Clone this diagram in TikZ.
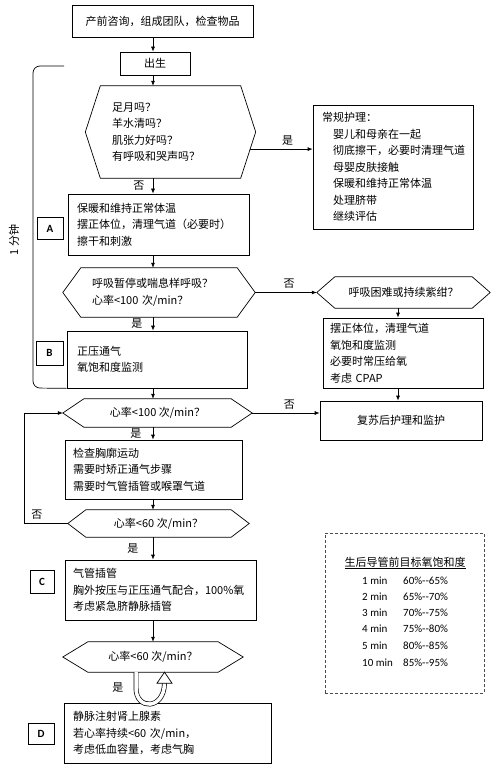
\documentclass[tikz,border=0pt]{standalone}
\usepackage{fontspec}
\setmainfont{Noto Sans CJK SC}
\newfontfamily\latfont{Carlito}
\usetikzlibrary{arrows.meta,calc}

\begin{document}
\begin{tikzpicture}[x=1pt,y=-1pt,
    every node/.style={font=\fontsize{11}{16.5}\selectfont},
    box/.style={draw,line width=0.7pt,inner sep=2pt},
    txtbox/.style={box,align=left},
    hexnode/.style={inner sep=2pt},
    tag/.style={box,font=\latfont\bfseries\fontsize{11}{13}\selectfont},
    arr/.style={line width=0.7pt,-{Latex[length=5pt,width=4pt]}},
    line/.style={line width=0.7pt},
    uturn/.style={double,double distance=3.5pt,line width=0.7pt}]
    \useasboundingbox (0,0) rectangle (496,767);
    \coordinate (axis) at (153,0);
    \coordinate (raxis) at (398,0);

    % main column
    \node[box,minimum width=181,minimum height=32] (pre) at (162.5,21) {产前咨询，组成团队，检查物品};
    \node[box,minimum width=70,minimum height=23] (birth) at (155,63.5) {出生};
    \node[hexnode,minimum width=170,minimum height=92,text width=117,align=left] (q1) at (170.5,132)
      {足月吗？\\羊水清吗？\\肌张力好吗？\\有呼吸和哭声吗？};
    \node[txtbox,minimum width=181,minimum height=61,text width=163] (boxa) at (158.5,224.5)
      {保暖和维持正常体温\\摆正体位，清理气道（必要时）\\擦干和刺激};
    \node[hexnode,minimum width=192,minimum height=49,text width=134,align=left] (q2) at (159,292.5)
      {呼吸暂停或喘息样呼吸？\\心率<100 次/min？};
    \node[txtbox,minimum width=180,minimum height=57,text width=160] (boxb) at (157,359.5)
      {正压通气\\氧饱和度监测};
    \node[hexnode,minimum width=189,minimum height=28] (q4) at (157.5,413) {心率<100 次/min？};
    \node[txtbox,minimum width=177,minimum height=59,text width=161] (chk) at (153.5,469.5)
      {检查胸廓运动\\需要时矫正通气步骤\\需要时气管插管或喉罩气道};
    \node[hexnode,minimum width=181,minimum height=27] (q5) at (158.5,523.5) {心率<60 次/min？};
    \node[txtbox,minimum width=191,minimum height=60,text width=175] (boxc) at (160.5,590)
      {气管插管\\胸外按压与正压通气配合，100\%氧\\考虑紧急脐静脉插管};
    \node[hexnode,minimum width=180,minimum height=30] (q6) at (153,657) {心率<60 次/min？};
    \node[txtbox,minimum width=207,minimum height=60,text width=189] (boxd) at (167.5,733)
      {静脉注射肾上腺素\\若心率持续<60 次/min，\\考虑低血容量，考虑气胸};

    % right column
    \node[txtbox,minimum width=160,minimum height=124,text width=142] (care) at (393,167)
      {常规护理：\\\hspace*{11pt}婴儿和母亲在一起\\\hspace*{11pt}彻底擦干，必要时清理气道\\\hspace*{11pt}母婴皮肤接触\\\hspace*{11pt}保暖和维持正常体温\\\hspace*{11pt}处理脐带\\\hspace*{11pt}继续评估};
    \node[hexnode,minimum width=173,minimum height=31] (q3) at (403.5,292.5) {呼吸困难或持续紫绀？};
    \node[txtbox,minimum width=160,minimum height=70,text width=146] (cpap) at (403,353)
      {摆正体位，清理气道\\氧饱和度监测\\必要时常压给氧\\考虑 CPAP};
    \node[box,minimum width=162,minimum height=39] (post) at (401,420.5) {复苏后护理和监护};

    % step tags
    \node[tag,minimum width=26,minimum height=22] (taga) at (50,228.5) {A};
    \node[tag,minimum width=27,minimum height=24] (tagb) at (49.5,353) {B};
    \node[tag,minimum width=24,minimum height=23] (tagc) at (42,581.5) {C};
    \node[tag,minimum width=26,minimum height=21] (tagd) at (41,733.5) {D};

    % hexagons
    \foreach \n/\d in {q1/15pt,q2/18pt,q3/18pt,q4/21pt,q5/18pt,q6/25pt}{
      \draw[line] ([xshift=\d]\n.north west) -- ([xshift=-\d]\n.north east) -- (\n.east)
        -- ([xshift=-\d]\n.south east) -- ([xshift=\d]\n.south west) -- (\n.west) -- cycle;
    }

    % one minute bracket
    \draw[line,rounded corners=7pt] (64,66) -- (33,66) -- (33,388) -- (boxb.south west);
    \node[rotate=90] (onemin) at (14,240) {1 分钟};

    % connectors
    \coordinate (q1r) at ($(q1.east)!0.37!([xshift=-15pt]q1.south east)$);
    \draw[arr] (pre.south -| axis) -- (birth.north -| axis);
    \draw[arr] (birth.south -| axis) -- (q1.north -| axis);
    \draw[arr] (q1.south -| axis) -- node[left=5pt]{否} (boxa.north -| axis);
    \draw[arr] (q1r) -- node[above,pos=0.6]{是} (q1r -| care.west);
    \draw[arr] (boxa.south -| axis) -- (q2.north -| axis);
    \draw[arr] (q2.east) -- node[above,pos=0.55]{否} (q3.west);
    \draw[arr] (q2.south -| axis) -- node[left=7pt]{是} (boxb.north -| axis);
    \draw[arr] (q3.south -| raxis) -- (cpap.north -| raxis);
    \draw[arr] (cpap.south -| raxis) -- (post.north -| raxis);
    \draw[arr] (boxb.south -| axis) -- (q4.north -| axis);
    \draw[arr] (q4.east) -- node[above,pos=0.55]{否} (q4.east -| post.west);
    \draw[arr] (q4.south -| axis) -- node[left=8pt]{是} (chk.north -| axis);
    \draw[arr] (chk.south -| axis) -- (q5.north -| axis);
    \draw[arr] (q5.west) -- node[above,pos=0.72]{否} ++(-43,0) |- (q4.west);
    \draw[arr] (q5.south -| axis) -- node[left=11pt]{是} (boxc.north -| axis);
    \draw[arr] (boxc.south -| axis) -- (q6.north -| axis);

    % u-turn back to q6
    \draw[uturn] ($(q6.south)+(-17,0)$) -- node[left=9pt,pos=0.95]{是} ($(q6.south)+(-17,16)$)
      .. controls ($(q6.south)+(-17,38)$) and ($(q6.south)+(11,38)$) .. ($(q6.south)+(11.5,11)$);
    \draw[line,fill=white] ($(q6.south)+(4,11)$) -- ($(q6.south)+(11.5,0)$) -- ($(q6.south)+(19,11)$) -- cycle;

    % target saturation table
    \node[draw=black!70,densely dashed,line width=0.6pt,minimum width=159,minimum height=160] (spo) at (404.5,613) {};
    \node (spotitle) at (405,563) {\underline{生后导管前目标氧饱和度}};
    \foreach \t/\y/\p/\q in {1/581/60/65,2/597/65/70,3/613/70/75,4/629/75/80,5/646/80/85,10/663/85/95}{
      \node[anchor=west,inner sep=0pt,font=\latfont\fontsize{11}{13}\selectfont] (t\t) at (362,\y) {\t\ min};
      \node[anchor=west,inner sep=0pt,font=\latfont\fontsize{11}{13}\selectfont] (p\t) at (403,\y) {\p\%-{}-\q\%};
    }
  \end{tikzpicture}
\end{document}
